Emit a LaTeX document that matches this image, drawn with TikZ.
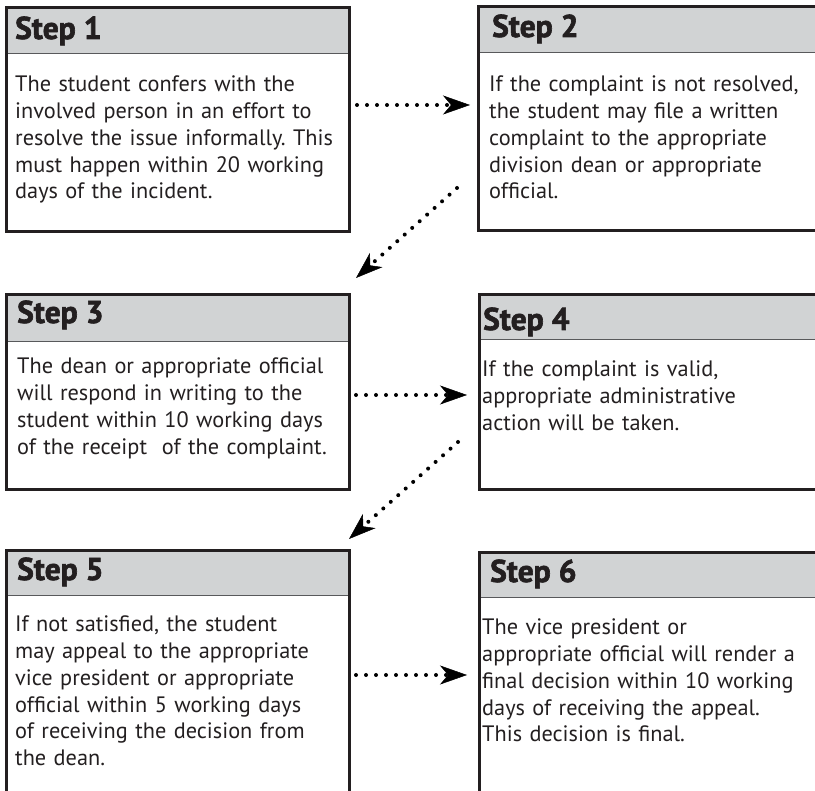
\documentclass[tikz,border=0pt]{standalone}
\usepackage{fontspec}
\setmainfont{PT Sans}[BoldFeatures={FakeBold=2}]
\usetikzlibrary{arrows.meta}
\frenchspacing
\definecolor{ink}{HTML}{231F20}
\definecolor{headgray}{HTML}{D1D3D4}
\definecolor{sepgray}{HTML}{58595B}
\tikzset{
  stepframe/.style={draw=ink, line width=2.6pt, anchor=north west, inner sep=0pt},
  stephead/.style={fill=headgray, draw=sepgray, line width=1.3pt, anchor=north west, inner sep=0pt},
  headtext/.style={anchor=base west, inner sep=0pt, text=ink, font=\bfseries\fontsize{31.5}{32}\selectfont},
  bodytext/.style={anchor=base west, inner sep=0pt, text=ink, align=left, text width=345pt, font=\fontsize{22.3}{26.7}\selectfont},
  dotarrow/.style={draw=black, line width=4pt, line cap=round, dash pattern=on 0pt off 10pt,
    -{Stealth[length=27pt, width=19pt, inset=8pt, line width=0.5pt]}},
}
\begin{document}
\begin{tikzpicture}[x=1pt,y=-1pt]
\useasboundingbox (0,0) rectangle (815,791);
% Step 1
\node[stephead, minimum width=343pt, minimum height=47pt] (h1) at (5,6) {};
\node[stepframe, minimum width=343pt, minimum height=224pt] (s1) at (5,6) {};
\node[headtext] (t1) at (15,39) {Step 1};
\node[bodytext] (b1) at (15,92) {The student confers with the\\involved person in an effort to\\resolve the issue informally. This\\must happen within 20 working\\days of the incident.};
% Step 2
\node[stephead, minimum width=353pt, minimum height=47pt] (h2) at (477,5) {};
\node[stepframe, minimum width=353pt, minimum height=224pt] (s2) at (477,5) {};
\node[headtext] (t2) at (492,37) {Step 2};
\node[bodytext] (b2) at (489,92) {If the complaint is not resolved,\\the student may file a written\\complaint to the appropriate\\division dean or appropriate\\official.};
% Step 3
\node[stephead, minimum width=343pt, minimum height=48pt] (h3) at (5,293) {};
\node[stepframe, minimum width=343pt, minimum height=195pt] (s3) at (5,293) {};
\node[headtext] (t3) at (17,323) {Step 3};
\node[bodytext] (b3) at (17,374) {The dean or appropriate official\\will respond in writing to the\\student within 10 working days\\of the receipt\ \ of the complaint.};
% Step 4
\node[stephead, minimum width=352pt, minimum height=46pt] (h4) at (478,293) {};
\node[stepframe, minimum width=352pt, minimum height=195pt] (s4) at (478,293) {};
\node[headtext] (t4) at (483,330) {Step 4};
\node[bodytext] (b4) at (482,377) {If the complaint is valid,\\appropriate administrative\\action will be taken.};
% Step 5
\node[stephead, minimum width=343pt, minimum height=46pt] (h5) at (5,549) {};
\node[stepframe, minimum width=343pt, minimum height=260pt] (s5) at (5,549) {};
\node[headtext] (t5) at (17,580) {Step 5};
\node[bodytext] (b5) at (15,632) {If not satisfied, the student\\may appeal to the appropriate\\vice president or appropriate\\official within 5 working days\\of receiving the decision from\\the dean.};
% Step 6
\node[stephead, minimum width=352pt, minimum height=46pt] (h6) at (478,551) {};
\node[stepframe, minimum width=352pt, minimum height=260pt] (s6) at (478,551) {};
\node[headtext] (t6) at (490,582) {Step 6};
\node[bodytext] (b6) at (482,635) {The vice president or\\appropriate official will render a\\final decision within 10 working\\days of receiving the appeal.\\This decision is final.};
% connectors
\coordinate (a1s) at (357,105); \coordinate (a1e) at (470,105);
\coordinate (d1s) at (457,188); \coordinate (d1e) at (356,278);
\coordinate (a2s) at (356,395); \coordinate (a2e) at (467,395);
\coordinate (d2s) at (458,442); \coordinate (d2e) at (349,539);
\coordinate (a3s) at (356,675); \coordinate (a3e) at (467,675);
\draw[dotarrow] (a1s) -- (a1e);
\draw[dotarrow] (d1s) -- (d1e);
\draw[dotarrow] (a2s) -- (a2e);
\draw[dotarrow] (d2s) -- (d2e);
\draw[dotarrow] (a3s) -- (a3e);
\end{tikzpicture}
\end{document}
